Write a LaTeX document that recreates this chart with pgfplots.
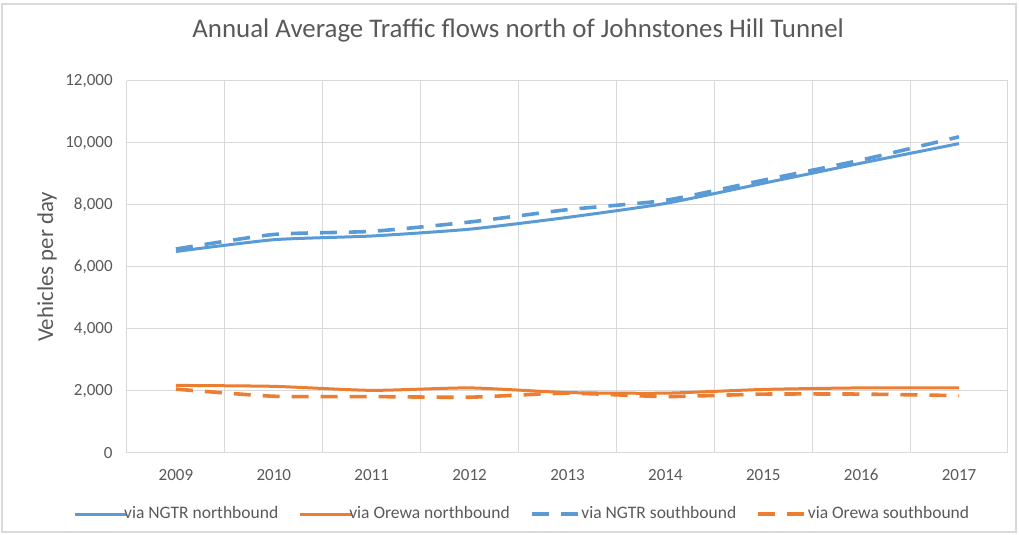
\documentclass[border=0pt]{standalone}
\usepackage{pgfplots}
\pgfplotsset{compat=1.18}
\usepackage{fontspec}
\setmainfont{Carlito}
\definecolor{cblue}{HTML}{5B9BD5}
\definecolor{corange}{HTML}{ED7D31}
\definecolor{ctext}{HTML}{595959}
\definecolor{cgrid}{HTML}{D9D9D9}
\begin{document}
\begin{tikzpicture}
\path[use as bounding box] (0,0) rectangle (509.5pt,267.5pt);
\draw[color=cgrid, line width=0.6pt] (1pt,1.5pt) rectangle (508pt,265.5pt);
\begin{axis}[
  at={(63.5pt,41pt)}, anchor=south west,
  scale only axis, width=440.5pt, height=186pt,
  xmin=2008.5, xmax=2017.5, ymin=0, ymax=12000,
  xtick={2009,2010,2011,2012,2013,2014,2015,2016,2017},
  minor xtick={2008.5,2009.5,2010.5,2011.5,2012.5,2013.5,2014.5,2015.5,2016.5,2017.5},
  ytick={0,2000,4000,6000,8000,10000,12000},
  scaled y ticks=false,
  xminorgrids=true, ymajorgrids=true,
  grid style={color=cgrid, line width=0.5pt},
  minor grid style={color=cgrid, line width=0.5pt},
  axis line style={draw=none},
  tick style={draw=none},
  major tick length=0pt, minor tick length=0pt,
  /pgf/number format/assume math mode=true,
  xticklabel style={font=\fontsize{8.5}{10}\selectfont, color=ctext, /pgf/number format/1000 sep={}, inner sep=0pt, anchor=north, yshift=-8pt},
  yticklabel style={font=\fontsize{8.5}{10}\selectfont, color=ctext, /pgf/number format/1000 sep={,}, inner sep=0pt, anchor=east, xshift=-7pt},
  title={Annual Average Traffic flows north of Johnstones Hill Tunnel},
  title style={font=\fontsize{13.45}{15}\selectfont, color=ctext, at={(axis description cs:0.444,1.086)}, anchor=base, inner sep=0pt},
  ylabel={Vehicles per day},
  ylabel style={font=\fontsize{11.4}{13}\selectfont, color=ctext, at={(axis description cs:-0.0908,0.5)}, anchor=center, inner sep=0pt},
  legend columns=4,
  legend style={at={(axis description cs:0.448,-0.164)}, anchor=center, draw=none, fill=none,
    font=\fontsize{8.75}{10}\selectfont, text=ctext,
    /tikz/every odd column/.append style={column sep=-2.5pt},
    /tikz/every even column/.append style={column sep=9.5pt},
    nodes={inner sep=0.5pt}},
  legend cell align=left,
  legend image code/.code={\draw[#1] (0pt,0pt) -- (26pt,0pt);},
  every axis plot/.append style={smooth, tension=0.35, line join=round},
]
\addplot[color=cblue, line width=1.5pt] coordinates {
(2009,6500) (2010,6880) (2011,7000) (2012,7220) (2013,7600) (2014,8050) (2015,8700) (2016,9350) (2017,9980)};
\addlegendentry{via NGTR northbound}
\addplot[color=corange, line width=1.5pt] coordinates {
(2009,2180) (2010,2150) (2011,2020) (2012,2100) (2013,1950) (2014,1930) (2015,2050) (2016,2100) (2017,2100)};
\addlegendentry{via Orewa northbound}
\addplot[color=cblue, line width=1.8pt, line cap=butt, dash pattern=on 8.5pt off 6pt] coordinates {
(2009,6580) (2010,7050) (2011,7150) (2012,7450) (2013,7850) (2014,8150) (2015,8800) (2016,9450) (2017,10200)};
\addlegendentry{via NGTR southbound}
\addplot[color=corange, line width=1.8pt, line cap=butt, dash pattern=on 8.5pt off 6pt] coordinates {
(2009,2060) (2010,1830) (2011,1820) (2012,1800) (2013,1930) (2014,1820) (2015,1900) (2016,1900) (2017,1850)};
\addlegendentry{via Orewa southbound}
\end{axis}
\end{tikzpicture}
\end{document}
